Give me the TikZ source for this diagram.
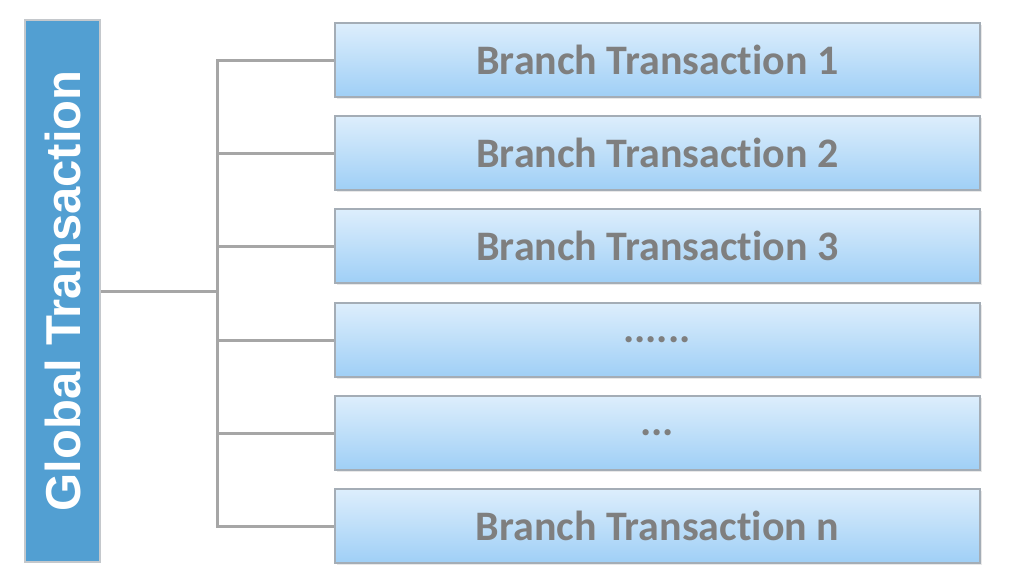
\documentclass[tikz,border=0pt]{standalone}
\usepackage{fontspec}
\setmainfont{Liberation Sans}
\newfontfamily\carlito[Ligatures={NoCommon}]{Carlito}
\definecolor{gfill}{HTML}{529FD2}
\definecolor{gborder}{HTML}{C4C8CC}
\definecolor{btop}{HTML}{DDEEFC}
\definecolor{bbot}{HTML}{9FCFF6}
\definecolor{bborder}{HTML}{A4ADB6}
\definecolor{btext}{HTML}{7F7F7F}
\definecolor{conn}{HTML}{A6A6A6}
\usetikzlibrary{shadows}
\tikzset{
  branchbox/.style={draw=bborder, line width=1.5pt, top color=btop, bottom color=bbot,
    minimum width=645pt, minimum height=74pt, inner sep=0pt,
    font=\carlito\bfseries\fontsize{42}{42}\selectfont, text=btext,
    drop shadow={opacity=0.18, shadow xshift=1.5pt, shadow yshift=-1.5pt}},
  globalbox/.style={draw=gborder, line width=2pt, fill=gfill,
    minimum width=542pt, minimum height=75pt, inner sep=0pt, rotate=90,
    font=\bfseries\fontsize{49}{49}\selectfont, text=white},
  connector/.style={draw=conn, line width=3pt},
  dotsnode/.style={font=\carlito\bfseries\fontsize{42}{42}\selectfont, text=btext, inner sep=0pt}
}
\begin{document}
\begin{tikzpicture}[x=1pt, y=-1pt]
\useasboundingbox (0,0) rectangle (1022,574);
\node[globalbox] (g) at (62.5,291) {Global Transaction};
\node[branchbox] (b1) at (657.5,60) {Branch Transaction 1};
\node[branchbox] (b2) at (657.5,153) {Branch Transaction 2};
\node[branchbox] (b3) at (657.5,246) {Branch Transaction 3};
\node[branchbox] (b4) at (657.5,340) {};
\node[branchbox] (b5) at (657.5,433) {};
\node[branchbox] (b6) at (657.5,526) {Branch Transaction n};
\node[dotsnode, anchor=base] (d4) at (657,342) {......};
\node[dotsnode, anchor=base] (d5) at (657,435) {...};
\coordinate (j) at (217,291);
\coordinate (t1) at (217,60);
\coordinate (t6) at (217,526);
\draw[connector] (g.south |- j) -- (j);
\draw[connector, line cap=rect] (t1) -- (t6);
\foreach \i in {1,...,6} {
  \draw[connector] (217,0 |- b\i.west) -- (b\i.west);
}
\end{tikzpicture}
\end{document}
